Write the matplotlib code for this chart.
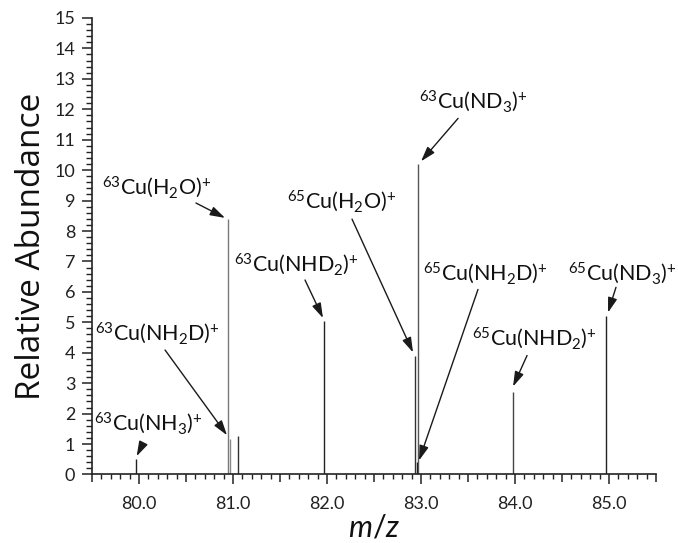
import matplotlib
matplotlib.use("Agg")
import matplotlib.pyplot as plt
from matplotlib.ticker import MultipleLocator, FuncFormatter

plt.rcParams['font.family'] = ['Lato', 'DejaVu Sans']
plt.rcParams['mathtext.fontset'] = 'custom'
plt.rcParams['mathtext.rm'] = 'Lato'
plt.rcParams['mathtext.it'] = 'Lato:italic'
plt.rcParams['mathtext.bf'] = 'Lato:bold'

# ---- data ----
mz = [79.97, 80.945, 80.963, 81.057, 81.97, 82.937, 82.955, 82.972, 83.977, 84.970]
abundance = [0.50, 8.38, 1.18, 1.28, 5.05, 3.90, 0.40, 10.20, 2.72, 5.20]
peak_colors = ['#222222', '#7a7a7a', '#8a8a8a', '#333333', '#222222',
               '#333333', '#111111', '#555555', '#444444', '#222222']

labels = [
    r'$^{63}$Cu(NH$_3$)$^{+}$',
    r'$^{63}$Cu(NH$_2$D)$^{+}$',
    r'$^{63}$Cu(H$_2$O)$^{+}$',
    r'$^{63}$Cu(NHD$_2$)$^{+}$',
    r'$^{65}$Cu(H$_2$O)$^{+}$',
    r'$^{63}$Cu(ND$_3$)$^{+}$',
    r'$^{65}$Cu(NH$_2$D)$^{+}$',
    r'$^{65}$Cu(NHD$_2$)$^{+}$',
    r'$^{65}$Cu(ND$_3$)$^{+}$',
]

# ---- layout (data coordinates) ----
text_pos = [(79.521, 1.46), (79.532, 4.42), (79.606, 9.21), (81.011, 6.68),
            (81.574, 8.75), (82.979, 12.04), (83.021, 6.39), (83.543, 4.25),
            (84.564, 6.39)]
arrow_tail = [(80.035, 0.97), (80.277, 4.09), (80.606, 8.92), (81.766, 6.39),
              (82.266, 8.39), (83.394, 11.70), (83.606, 6.08), (84.128, 3.91),
              (85.074, 6.15)]
arrow_tip = [(79.975, 0.60), (80.936, 1.29), (80.915, 8.43), (81.957, 5.14),
             (82.915, 4.01), (83.000, 10.29), (82.979, 0.46), (83.979, 2.89),
             (84.989, 5.32)]

fig = plt.figure(figsize=(6.78, 5.43), dpi=100)
ax = fig.add_axes([0.1357, 0.1262, 0.8319, 0.8407])

ax.vlines(mz, 0, abundance, colors=peak_colors, linewidth=1.0)

for lab, tp, tail, tip in zip(labels, text_pos, arrow_tail, arrow_tip):
    ax.text(tp[0], tp[1], lab, fontsize=15.5, ha='left', va='baseline',
            color='#111111', clip_on=False)
    ax.annotate('', xy=tip, xytext=tail,
                arrowprops=dict(arrowstyle='-|>,head_length=0.9,head_width=0.28',
                                color='#1a1a1a', lw=1.0, shrinkA=0, shrinkB=0,
                                mutation_scale=10),
                annotation_clip=False)

ax.set_xlim(79.5, 85.5)
ax.set_ylim(0, 15)

for s in ['top', 'right']:
    ax.spines[s].set_visible(False)
for s in ['left', 'bottom']:
    ax.spines[s].set_linewidth(1.2)
    ax.spines[s].set_color('#222222')

ax.yaxis.set_major_locator(MultipleLocator(1))
ax.yaxis.set_minor_locator(MultipleLocator(0.2))
ax.xaxis.set_major_locator(MultipleLocator(0.5))
ax.xaxis.set_minor_locator(MultipleLocator(0.1))

def xfmt(v, pos):
    if abs(v - round(v)) < 1e-6:
        return f'{v:.1f}'
    return ''
ax.xaxis.set_major_formatter(FuncFormatter(xfmt))

ax.tick_params(axis='y', which='major', direction='out', length=7, width=1.1,
               labelsize=13, pad=5, colors='#222222')
ax.tick_params(axis='y', which='minor', direction='out', length=4, width=1.0,
               colors='#222222')
ax.tick_params(axis='x', which='major', direction='out', length=5.5, width=1.1,
               labelsize=13, pad=10, colors='#222222')
ax.tick_params(axis='x', which='minor', direction='out', length=3.5, width=1.0,
               colors='#222222')

fig.canvas.draw()
for t in ax.xaxis.get_major_ticks():
    v = t.get_loc()
    if abs(v - round(v)) < 1e-6:
        t.tick1line.set_markersize(7)

ax.set_ylabel('Relative Abundance', fontsize=24, color='#111111', labelpad=5,
              family=['Open Sans', 'DejaVu Sans'])
ax.set_xlabel(r'$m/z$', fontsize=22, color='#111111', labelpad=1)

fig.savefig('out.png', dpi=100)
